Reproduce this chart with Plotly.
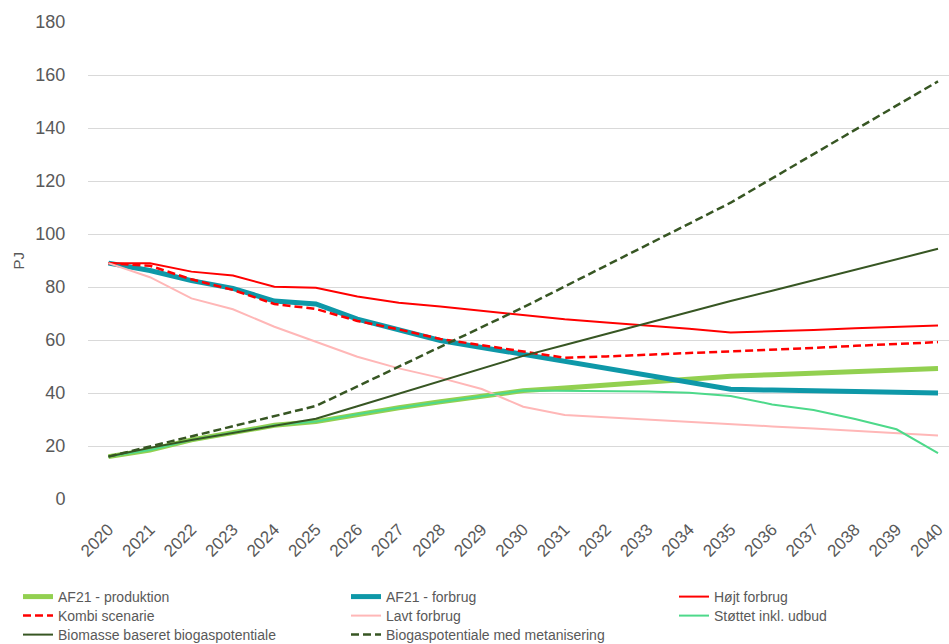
import plotly.graph_objects as go

years = list(range(2020, 2041))
af21_produktion = [16, 18.5, 22.3, 25, 27.8, 29.2, 32.0, 34.4, 36.7, 38.8, 40.9, 41.9, 43.0, 44.1, 45.2, 46.3, 46.9, 47.5, 48.1, 48.6, 49.2]
af21_forbrug = [89, 86.2, 82.4, 79.5, 74.7, 73.6, 67.9, 63.8, 59.8, 57.2, 54.6, 52.0, 49.3, 46.7, 44.0, 41.4, 41.1, 40.8, 40.6, 40.3, 40.0]
hojt_forbrug = [89, 89, 85.8, 84.3, 80.1, 79.7, 76.4, 74.1, 72.6, 71.0, 69.3, 67.8, 66.6, 65.5, 64.2, 62.8, 63.2, 63.8, 64.4, 65.0, 65.5]
kombi_scenarie = [89, 88, 82.9, 78.9, 73.6, 71.7, 67.2, 64.0, 60.4, 58.0, 55.5, 53.3, 53.8, 54.4, 55.0, 55.6, 56.3, 57.0, 57.8, 58.5, 59.2]
lavt_forbrug = [89, 83.7, 75.7, 71.6, 65.0, 59.4, 53.7, 49.3, 45.7, 41.5, 34.8, 31.7, 30.8, 30.0, 29.1, 28.3, 27.4, 26.6, 25.7, 24.9, 24.0]
stottet_udbud = [16, 18.5, 22.3, 25, 27.8, 29.2, 32.0, 34.4, 36.7, 38.8, 40.9, 40.8, 40.8, 40.6, 40.1, 38.9, 35.7, 33.6, 30.2, 26.3, 17.3]
biomasse_potentiale = [16, 19.3, 22.3, 25, 27.7, 30.3, 35.0, 39.7, 44.4, 49.1, 54.0, 58.1, 62.3, 66.4, 70.5, 74.7, 78.6, 82.6, 86.5, 90.5, 94.4]
metanisering_potentiale = [16, 19.8, 23.6, 27.5, 31.3, 35.1, 42.5, 49.9, 57.3, 64.8, 72.3, 80.2, 88.1, 96.0, 103.9, 111.8, 121.0, 130.1, 139.3, 148.4, 157.6]

names = ["AF21 - produktion", "AF21 - forbrug", "Højt forbrug", "Kombi scenarie",
         "Lavt forbrug", "Støttet inkl. udbud", "Biomasse baseret biogaspotentiale",
         "Biogaspotentiale med metanisering"]
series = [af21_produktion, af21_forbrug, hojt_forbrug, kombi_scenarie,
          lavt_forbrug, stottet_udbud, biomasse_potentiale, metanisering_potentiale]
colors = ["#92D050", "#0E98A8", "#FF0000", "#FF0000", "#FFB7B7", "#4DD98A", "#375623", "#375623"]
widths = [5, 5, 2, 2.5, 2, 2, 2, 2.5]
dashes = ["solid", "solid", "solid", "8px,4px", "solid", "solid", "solid", "8px,4px"]
y_title = "PJ"

# legend slot positions (container coords): 3 columns x 3 rows, row-major order
col_x = [18 / 949, 346 / 949, 674 / 949]
row_y = [1 - 597 / 644, 1 - 616 / 644, 1 - 635 / 644]

FONT = "Liberation Sans, Arial, sans-serif"
GRAY = "#595959"

fig = go.Figure()
layout_legends = {}
for i, (nm, vals, c, w, d) in enumerate(zip(names, series, colors, widths, dashes)):
    key = "legend" if i == 0 else f"legend{i + 1}"
    fig.add_trace(go.Scatter(
        x=years, y=vals, name=nm, mode="lines",
        line=dict(color=c, width=w, dash=d),
        legend=key, showlegend=True,
    ))
    layout_legends[key] = dict(
        x=col_x[i % 3], y=row_y[i // 3], xref="container", yref="container",
        xanchor="left", yanchor="middle", orientation="v",
        bgcolor="rgba(0,0,0,0)", borderwidth=0,
        font=dict(family=FONT, size=14, color=GRAY),
    )

fig.update_layout(
    width=949, height=644,
    margin=dict(l=88, r=0, t=22, b=145, autoexpand=False),
    paper_bgcolor="white", plot_bgcolor="white",
    font=dict(family=FONT, color=GRAY),
    xaxis=dict(
        range=[2019.506, 2040.265], tickmode="array", tickvals=years,
        ticktext=[str(y) for y in years], tickangle=-45,
        tickfont=dict(family=FONT, size=17, color=GRAY),
        showgrid=False, zeroline=False, showline=False,
        ticks="outside", ticklen=13, tickcolor="rgba(0,0,0,0)",
        automargin=False,
    ),
    yaxis=dict(
        range=[0, 180], dtick=20, showgrid=True, gridcolor="#D9D9D9", gridwidth=1,
        zeroline=False, showline=False,
        ticks="outside", ticklen=18, tickcolor="rgba(0,0,0,0)",
        tickfont=dict(family=FONT, size=18, color=GRAY),
        automargin=False,
    ),
    annotations=[dict(
        text=y_title, textangle=-90, showarrow=False,
        xref="paper", yref="paper", x=-70 / 861, y=0.5,
        xanchor="center", yanchor="middle",
        font=dict(family=FONT, size=15, color=GRAY),
    )],
    showlegend=True,
    **layout_legends,
)

fig.write_html("out.html")
